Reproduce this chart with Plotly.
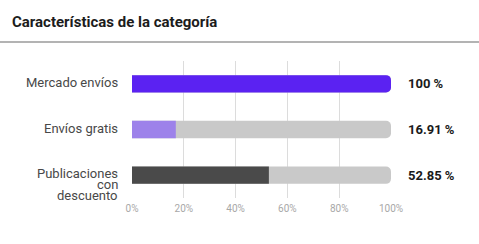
import plotly.graph_objects as go

categories = ["Mercado envíos", "Envíos gratis", "Publicaciones\ncon\ndescuento"]
values = [100, 16.91, 52.85]
bar_colors = ["#5b22f2", "#9d82ea", "#4a4a4a"]
track_value = 100
tick_vals = [0, 20, 40, 60, 80, 100]
tick_text = ["0%", "20%", "40%", "60%", "80%", "100%"]
title_text = "Características de la categoría"

W, H = 479, 244
ml, mr, mt, mb = 132, 88, 61, 46
pw = W - ml - mr
ph = H - mt - mb

fig = go.Figure()
fig.add_trace(go.Bar(
    y=list(range(len(categories))), x=[track_value] * len(categories),
    orientation="h", marker=dict(color="#c9c9c9", cornerradius=5, line=dict(width=0)),
    width=0.38, hoverinfo="skip", showlegend=False))
fig.add_trace(go.Bar(
    y=list(range(len(categories))), x=values,
    orientation="h", marker=dict(color=bar_colors, cornerradius=5, line=dict(width=0)),
    width=0.38, showlegend=False))

annotations = []
# category labels (one annotation per line, tight leading)
for i, cat in enumerate(categories):
    lines = cat.split("\n")
    n = len(lines)
    for j, ln in enumerate(lines):
        off = -2 + j * 11 if n > 1 else -1.5
        annotations.append(dict(
            x=0, y=i, xref="paper", yref="y", text=ln, showarrow=False,
            xanchor="right", yanchor="middle", xshift=-12, yshift=-off,
            font=dict(family="Roboto", size=13, color="#484848")))
# value labels
for i, v in enumerate(values):
    annotations.append(dict(
        x=1, y=i, xref="paper", yref="y", text=f"{v:g} %", showarrow=False,
        xanchor="left", yanchor="middle", xshift=15,
        font=dict(family="Roboto", size=13, color="#1a1a1a", weight="bold")))

fig.update_layout(
    width=W, height=H,
    margin=dict(l=ml, r=mr, t=mt, b=mb, pad=0),
    paper_bgcolor="white", plot_bgcolor="white",
    barmode="overlay",
    title=dict(text=title_text, x=12 / W, xref="container", xanchor="left",
               y=1 - 22 / H, yref="container", yanchor="middle",
               font=dict(family="Roboto", size=15, color="#1c1c1c", weight="bold")),
    xaxis=dict(range=[0, 100], tickvals=tick_vals, ticktext=tick_text,
               showgrid=True, gridcolor="#dcdcdc", gridwidth=1, zeroline=False,
               showline=False, ticks="", fixedrange=True, ticklabelstandoff=3,
               tickfont=dict(family="Roboto", size=10, color="#a8a8a8")),
    yaxis=dict(range=[len(categories) - 0.5, -0.5], showticklabels=False,
               showgrid=False, zeroline=False, showline=False, fixedrange=True),
    annotations=annotations,
    shapes=[dict(type="line", xref="paper", yref="paper",
                 x0=-ml / pw, x1=(W - ml) / pw,
                 y0=(H - mb - 42) / ph, y1=(H - mb - 42) / ph,
                 line=dict(color="#9a9a9a", width=1.5))],
)

fig.write_html("out.html")
